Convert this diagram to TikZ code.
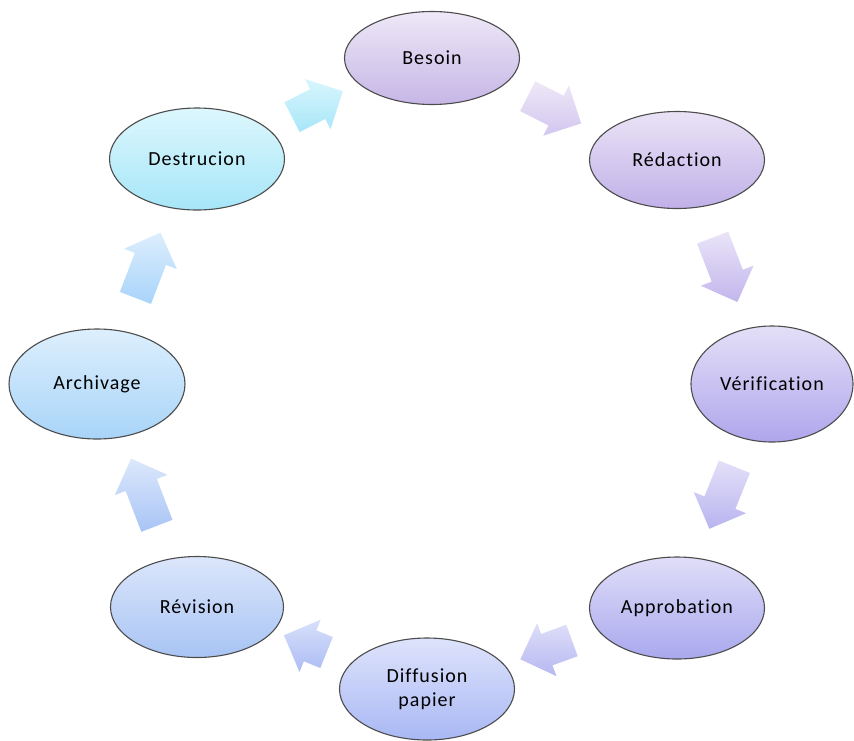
\documentclass[tikz,border=0pt]{standalone}
\usepackage{fontspec}
\setmainfont{Carlito}[LetterSpace=5.0, Ligatures={NoCommon}]
\usetikzlibrary{shapes.geometric,shapes.arrows}
% ellipse colours (top / bottom)
\definecolor{e1t}{HTML}{EEE8F7}\definecolor{e1b}{HTML}{C6B6E6}
\definecolor{e2t}{HTML}{EAE3F6}\definecolor{e2b}{HTML}{C0B0E8}
\definecolor{e3t}{HTML}{E4DFF7}\definecolor{e3b}{HTML}{AFA6EC}
\definecolor{e4t}{HTML}{E0DEF8}\definecolor{e4b}{HTML}{A9A8EE}
\definecolor{e5t}{HTML}{DEE3FB}\definecolor{e5b}{HTML}{A9B8F4}
\definecolor{e6t}{HTML}{DCE6FB}\definecolor{e6b}{HTML}{A8C4F4}
\definecolor{e7t}{HTML}{DDEFFD}\definecolor{e7b}{HTML}{A8D4F8}
\definecolor{e8t}{HTML}{DDF7FD}\definecolor{e8b}{HTML}{A6E6F8}
% arrow colours (top / bottom)
\definecolor{a1t}{HTML}{EEE8F8}\definecolor{a1b}{HTML}{D2C6EE}
\definecolor{a2t}{HTML}{EAE4F8}\definecolor{a2b}{HTML}{C2B6EC}
\definecolor{a3t}{HTML}{E4E0F8}\definecolor{a3b}{HTML}{B8B4F0}
\definecolor{a4t}{HTML}{DEDEF8}\definecolor{a4b}{HTML}{B6B8F2}
\definecolor{a5t}{HTML}{D8E0FA}\definecolor{a5b}{HTML}{ACBCF4}
\definecolor{a6t}{HTML}{DCE8FB}\definecolor{a6b}{HTML}{A8C4F6}
\definecolor{a7t}{HTML}{DDEEFD}\definecolor{a7b}{HTML}{A8D4FA}
\definecolor{a8t}{HTML}{D8F6FD}\definecolor{a8b}{HTML}{A8E6F8}
\begin{document}
\begin{tikzpicture}[x=1pt,y=-1pt,
  stage/.style={ellipse, draw=gray!60!black, line width=1.1pt, inner sep=0pt,
    font=\fontsize{20}{24}\selectfont, text=black, align=center},
  flow/.style={single arrow, draw=none, inner xsep=0pt, inner ysep=16.5pt,
    single arrow head extend=11.5pt, minimum height=#1}]
\useasboundingbox (0,0) rectangle (854,740);
% stages
\node[stage, minimum width=175pt, minimum height=93pt, top color=e1t, bottom color=e1b] (besoin) at (432,58) {Besoin};
\node[stage, minimum width=175pt, minimum height=97pt, top color=e2t, bottom color=e2b] (redaction) at (677,160) {Rédaction};
\node[stage, minimum width=162pt, minimum height=116pt, top color=e3t, bottom color=e3b] (verif) at (772,384) {Vérification};
\node[stage, minimum width=175pt, minimum height=102pt, top color=e4t, bottom color=e4b] (approb) at (677,608) {Approbation};
\node[stage, minimum width=175pt, minimum height=102pt, top color=e5t, bottom color=e5b] (diffusion) at (427,689) {Diffusion\\papier};
\node[stage, minimum width=173pt, minimum height=101pt, top color=e6t, bottom color=e6b] (revision) at (197,607) {Révision};
\node[stage, minimum width=176pt, minimum height=110pt, top color=e7t, bottom color=e7b] (archivage) at (97,384) {Archivage};
\node[stage, minimum width=175pt, minimum height=102pt, top color=e8t, bottom color=e8b] (destruction) at (197,159) {Destrucion};
% block arrows
\node[flow=60pt, rotate=-27, top color=a1t, bottom color=a1b] (a1) at (547,106) {};
\node[flow=69pt, rotate=-69, top color=a2t, bottom color=a2b] (a2) at (722,262) {};
\node[flow=67pt, rotate=-112, top color=a3t, bottom color=a3b] (a3) at (725,490) {};
\node[flow=55pt, rotate=-160, top color=a4t, bottom color=a4b] (a4) at (554,647) {};
\node[flow=46pt, rotate=158, top color=a5t, bottom color=a5b] (a5) at (313,647) {};
\node[flow=72pt, rotate=111, top color=a6t, bottom color=a6b] (a6) at (147,500) {};
\node[flow=70pt, rotate=69, top color=a7t, bottom color=a7b] (a7) at (145,273) {};
\node[flow=57pt, rotate=27, top color=a8t, bottom color=a8b] (a8) at (310,108) {};
\end{tikzpicture}
\end{document}
